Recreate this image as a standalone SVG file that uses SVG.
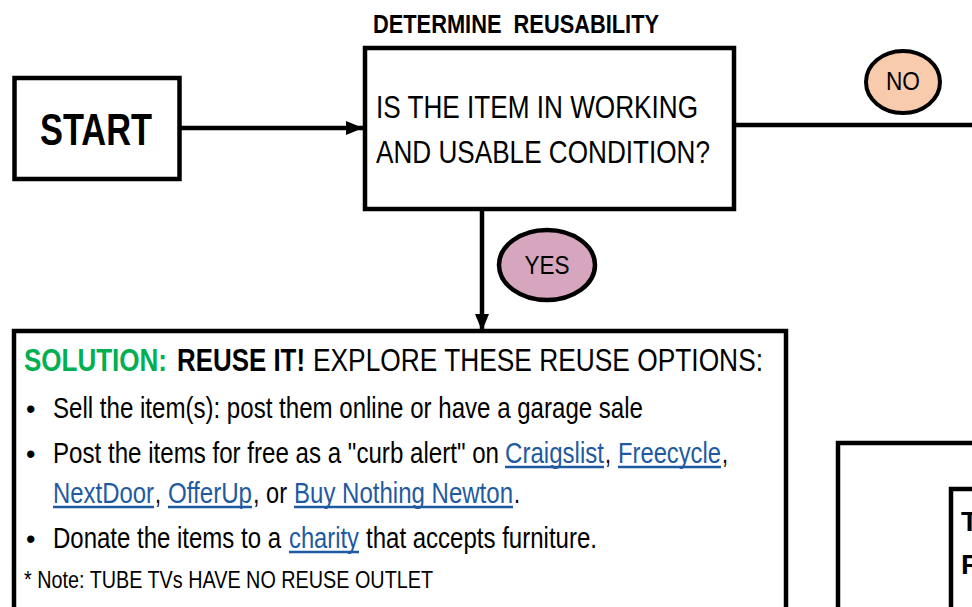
<svg xmlns="http://www.w3.org/2000/svg" width="972" height="607" viewBox="0 0 972 607">
<defs>
<style>
.t{font-family:"Liberation Sans",Arial,sans-serif;fill:#000;white-space:pre}
.b{font-weight:bold}
.box{fill:#fff;stroke:#000;stroke-width:4.5}
.con{fill:none;stroke:#000;stroke-width:4.5}
.lnk{fill:#1F5AA0}
.ul{stroke:#1F5AA0;stroke-width:2.5}
</style>
<marker id="arr" markerUnits="userSpaceOnUse" markerWidth="18" markerHeight="16" refX="17" refY="8" orient="auto">
<path d="M0,1 L17,8 L0,15 Z" fill="#000"/>
</marker>
</defs>
<rect width="972" height="607" fill="#fff"/>

<g id="connectors">
<line class="con" x1="181" y1="128" x2="363" y2="128" marker-end="url(#arr)"/>
<line class="con" x1="482" y1="209" x2="482" y2="331" marker-end="url(#arr)"/>
<line class="con" x1="734" y1="125" x2="972" y2="125"/>
</g>

<g id="start">
<rect class="box" x="14.5" y="78" width="165" height="101"/>
<text class="t b" x="40" y="145" font-size="45" textLength="112" lengthAdjust="spacingAndGlyphs">START</text>
</g>

<g id="title">
<text class="t b" x="373" y="33" font-size="25" textLength="286" lengthAdjust="spacingAndGlyphs" xml:space="preserve">DETERMINE  REUSABILITY</text>
</g>

<g id="question">
<rect class="box" x="365" y="48" width="369" height="161"/>
<text class="t" x="376" y="118" font-size="31" textLength="322" lengthAdjust="spacingAndGlyphs">IS THE ITEM IN WORKING</text>
<text class="t" x="376" y="163" font-size="31" textLength="334" lengthAdjust="spacingAndGlyphs">AND USABLE CONDITION?</text>
</g>

<g id="no">
<ellipse cx="903" cy="82" rx="37" ry="31" fill="#F8CBAD" stroke="#000" stroke-width="4"/>
<text class="t" x="903" y="90" font-size="25" text-anchor="middle" textLength="34" lengthAdjust="spacingAndGlyphs">NO</text>
</g>

<g id="yes">
<ellipse cx="547" cy="265" rx="48" ry="35" fill="#D5A6BD" stroke="#000" stroke-width="4.5"/>
<text class="t" x="547" y="274" font-size="26" text-anchor="middle" textLength="45" lengthAdjust="spacingAndGlyphs">YES</text>
</g>

<g id="solution">
<rect class="box" x="14" y="331" width="772" height="320"/>
<text class="t" y="371" font-size="32"><tspan class="b" x="24" style="fill:#00B050" textLength="143" lengthAdjust="spacingAndGlyphs">SOLUTION:</tspan><tspan class="b" x="177" textLength="128" lengthAdjust="spacingAndGlyphs">REUSE IT!</tspan><tspan x="313" textLength="450" lengthAdjust="spacingAndGlyphs">EXPLORE THESE REUSE OPTIONS:</tspan></text>

<text class="t" x="26" y="418" font-size="27">•</text>
<text class="t" x="53" y="418" font-size="29" textLength="590" lengthAdjust="spacingAndGlyphs">Sell the item(s): post them online or have a garage sale</text>

<text class="t" x="26" y="463" font-size="27">•</text>
<text class="t" y="463" font-size="29"><tspan x="53" textLength="446" lengthAdjust="spacingAndGlyphs">Post the items for free as a "curb alert" on</tspan><tspan class="lnk" x="505" textLength="99" lengthAdjust="spacingAndGlyphs">Craigslist</tspan><tspan x="605" textLength="6" lengthAdjust="spacingAndGlyphs">,</tspan><tspan class="lnk" x="618" textLength="103" lengthAdjust="spacingAndGlyphs">Freecycle</tspan><tspan x="722" textLength="6" lengthAdjust="spacingAndGlyphs">,</tspan></text>
<line class="ul" x1="505" y1="467" x2="604" y2="467"/>
<line class="ul" x1="618" y1="467" x2="721" y2="467"/>

<text class="t" y="503" font-size="29"><tspan class="lnk" x="53" textLength="101" lengthAdjust="spacingAndGlyphs">NextDoor</tspan><tspan x="155" textLength="6" lengthAdjust="spacingAndGlyphs">,</tspan><tspan class="lnk" x="168" textLength="84" lengthAdjust="spacingAndGlyphs">OfferUp</tspan><tspan x="253" textLength="34" lengthAdjust="spacingAndGlyphs">, or</tspan><tspan class="lnk" x="294" textLength="219" lengthAdjust="spacingAndGlyphs">Buy Nothing Newton</tspan><tspan x="514" textLength="6" lengthAdjust="spacingAndGlyphs">.</tspan></text>
<line class="ul" x1="53" y1="507" x2="154" y2="507"/>
<line class="ul" x1="168" y1="507" x2="252" y2="507"/>
<line class="ul" x1="294" y1="507" x2="513" y2="507"/>

<text class="t" x="26" y="548" font-size="27">•</text>
<text class="t" y="548" font-size="29"><tspan x="53" textLength="228" lengthAdjust="spacingAndGlyphs">Donate the items to a</tspan><tspan class="lnk" x="289" textLength="70" lengthAdjust="spacingAndGlyphs">charity</tspan><tspan x="366" textLength="231" lengthAdjust="spacingAndGlyphs">that accepts furniture.</tspan></text>
<line class="ul" x1="289" y1="552" x2="359" y2="552"/>

<text class="t" x="24" y="588" font-size="24" textLength="409" lengthAdjust="spacingAndGlyphs">* Note: TUBE TVs HAVE NO REUSE OUTLET</text>
</g>

<g id="right-outer">
<rect class="box" x="838" y="443" width="160" height="200"/>
</g>
<g id="right-inner">
<rect class="box" x="951" y="489" width="60" height="150"/>
<text class="t b" x="961" y="531" font-size="28">T</text>
<text class="t b" x="961" y="574" font-size="28">R</text>
</g>
</svg>
